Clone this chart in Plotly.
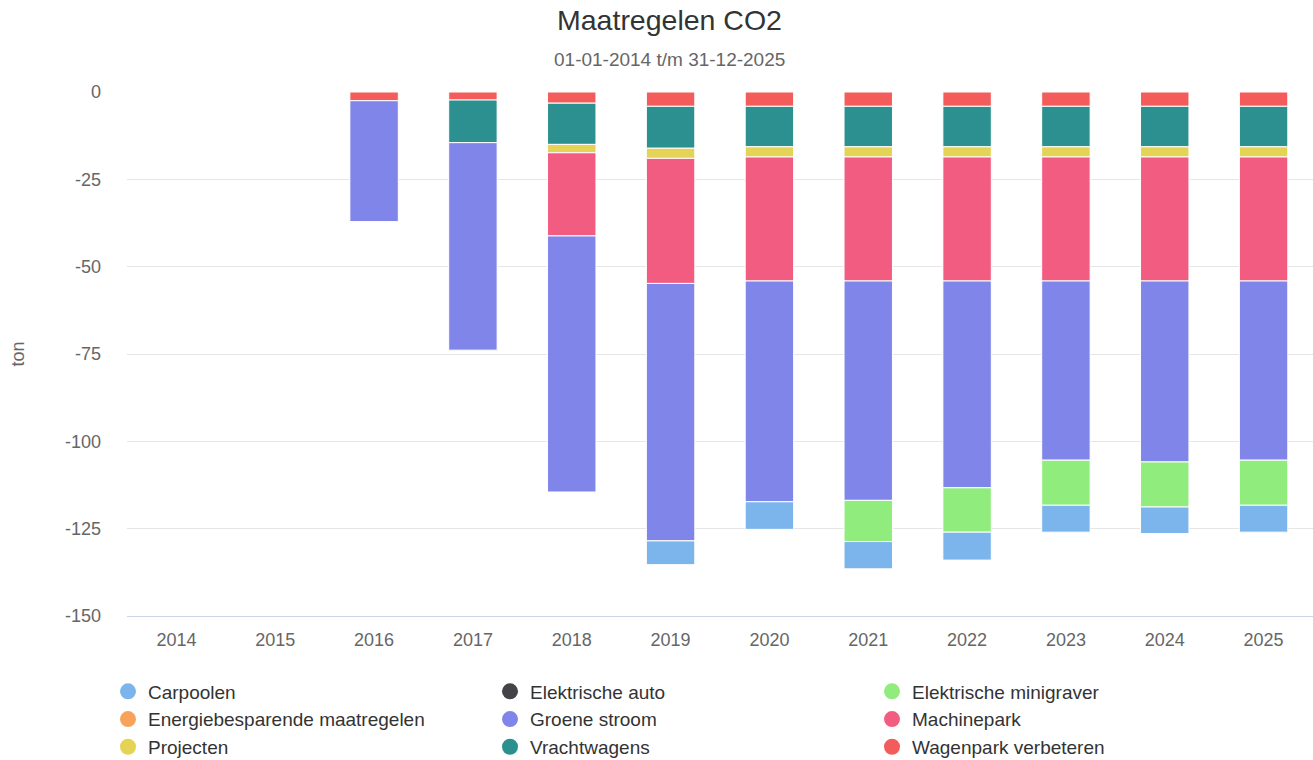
import plotly.graph_objects as go

years = ["2014", "2015", "2016", "2017", "2018", "2019", "2020", "2021", "2022", "2023", "2024", "2025"]

carpoolen = [None, None, None, None, None, -6.8, -7.9, -7.8, -8.0, -7.7, -7.6, -7.7]
elektrische_auto = [None] * 12
elektrische_minigraver = [None, None, None, None, None, None, None, -11.8, -12.7, -12.9, -12.9, -12.9]
energiebesparend = [None] * 12
groene_stroom = [None, None, -34.6, -59.4, -73.3, -73.7, -63.2, -62.8, -59.2, -51.3, -51.8, -51.3]
machinepark = [None, None, None, None, -23.8, -35.8, -35.5, -35.5, -35.5, -35.5, -35.5, -35.5]
projecten = [None, None, None, None, -2.4, -2.9, -2.9, -2.9, -2.9, -2.9, -2.9, -2.9]
vrachtwagens = [None, None, None, -12.2, -11.8, -12.0, -11.6, -11.6, -11.6, -11.6, -11.6, -11.6]
wagenpark = [None, None, -2.5, -2.3, -3.2, -4.1, -4.1, -4.1, -4.1, -4.1, -4.1, -4.1]

y_tick_values = [0, -25, -50, -75, -100, -125, -150]
y_tick_labels = ["0", "-25", "-50", "-75", "-100", "-125", "-150"]

series = [
    ("Carpoolen", carpoolen, "#7cb5ec"),
    ("Elektrische auto", elektrische_auto, "#434348"),
    ("Elektrische minigraver", elektrische_minigraver, "#90ed7d"),
    ("Energiebesparende maatregelen", energiebesparend, "#f7a35c"),
    ("Groene stroom", groene_stroom, "#8085e9"),
    ("Machinepark", machinepark, "#f15c80"),
    ("Projecten", projecten, "#e4d354"),
    ("Vrachtwagens", vrachtwagens, "#2b908f"),
    ("Wagenpark verbeteren", wagenpark, "#f45b5b"),
]

font_family = "Liberation Sans, Arial, sans-serif"
fig = go.Figure()

# bars: last series closest to zero (Highcharts stacking order)
for name, vals, color in reversed(series):
    fig.add_trace(go.Bar(
        x=years, y=vals, name=name, showlegend=False,
        marker=dict(color=color, line=dict(color="white", width=1)),
    ))

# legend entries with circle symbols
for i, (name, vals, color) in enumerate(series):
    fig.add_trace(go.Scatter(
        x=[None], y=[None], name=name, mode="markers",
        marker=dict(color=color, size=16, symbol="circle"),
        legendrank=i + 1, showlegend=True,
    ))

W, H = 1313, 760
L, T, B = 127, 92, 144
PH = H - T - B
PW = W - L

fig.update_layout(
    barmode="relative",
    bargap=0.51,
    width=W, height=H,
    margin=dict(l=L, r=0, t=T, b=B, autoexpand=False),
    plot_bgcolor="white", paper_bgcolor="white",
    font=dict(family=font_family, color="#666666"),
    title=dict(
        text="Maatregelen CO2",
        x=669.5 / W, xref="container", xanchor="center",
        y=1 - 20 / H, yref="container", yanchor="middle",
        font=dict(size=28.5, color="#333333", family=font_family),
    ),
    annotations=[dict(
        text="01-01-2014 t/m 31-12-2025",
        xref="paper", yref="paper", x=(669.5 - L) / PW, y=1 + 32 / PH,
        xanchor="center", yanchor="middle", showarrow=False,
        font=dict(size=19, color="#666666", family=font_family),
    )],
    xaxis=dict(
        type="category",
        categoryorder="array", categoryarray=years,
        showgrid=False, showline=True, linecolor="#ccd6eb", linewidth=1,
        ticks="", tickfont=dict(size=18, color="#666666"),
        ticklabelstandoff=7,
        zeroline=False, automargin=False,
    ),
    yaxis=dict(
        range=[-150, 0],
        tickvals=y_tick_values, ticktext=y_tick_labels,
        showgrid=True, gridcolor="#e6e6e6", gridwidth=1,
        zeroline=False, showline=False, ticks="",
        tickfont=dict(size=18, color="#666666"),
        ticklabelstandoff=25, automargin=False,
        title=dict(text="ton", font=dict(size=18, color="#666666"), standoff=35),
    ),
    legend=dict(
        orientation="h",
        x=(108 - L) / PW, xanchor="left",
        y=-(672.5 - (H - B)) / PH, yanchor="top",
        entrywidth=337, entrywidthmode="pixels",
        font=dict(size=19, color="#333333", family=font_family),
        tracegroupgap=0,
        itemclick=False,
    ),
)

fig.write_html(
    "out.html",
    config={"displayModeBar": False},
    post_script="document.body.style.margin='0px';",
)
